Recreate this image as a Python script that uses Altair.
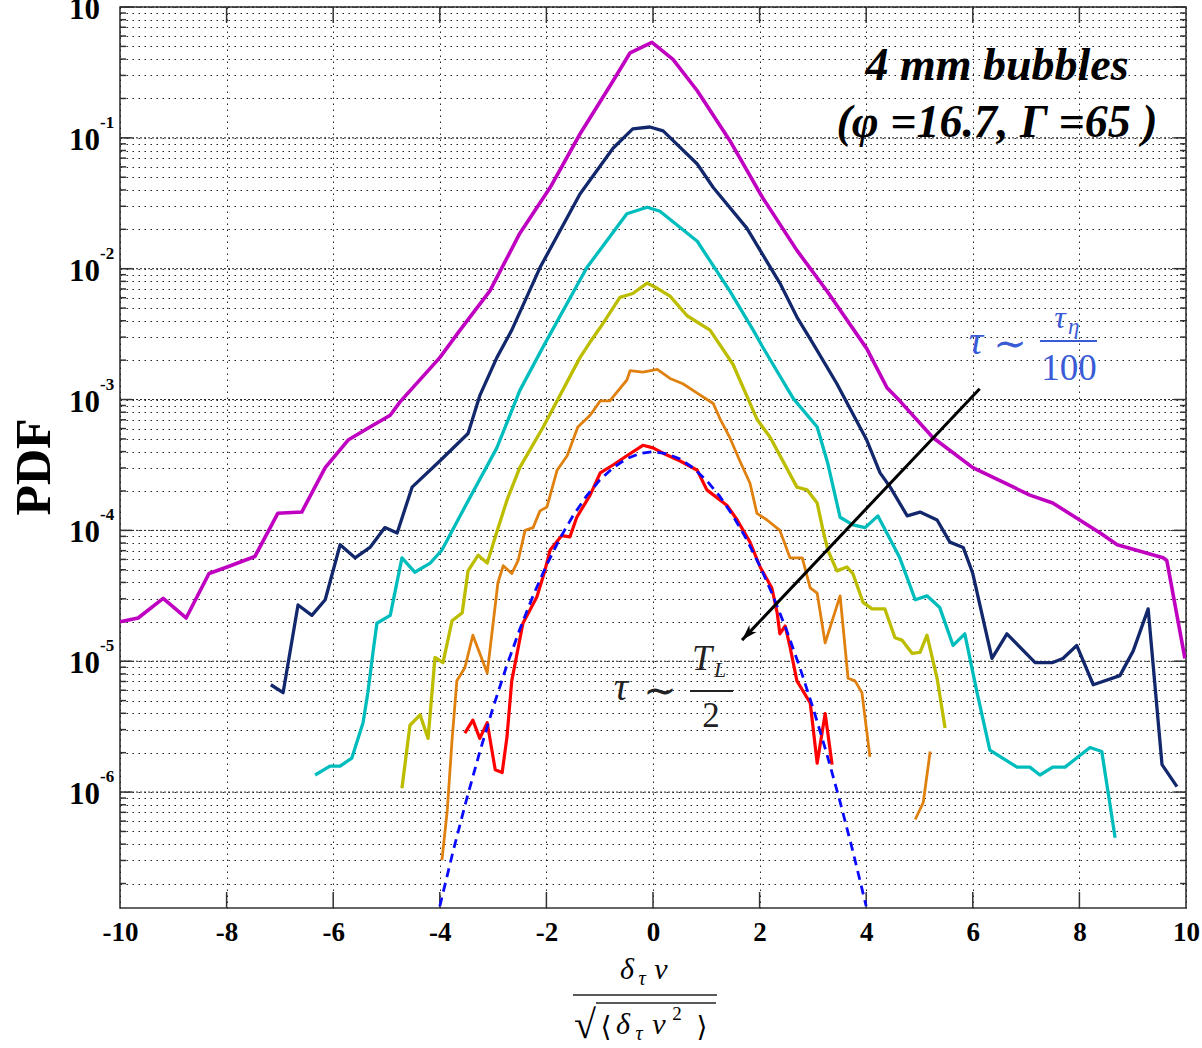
import altair as alt
import pandas as pd

# Normalised velocity increment (x) and its PDF (y); successive time lags are
# shifted down by roughly a decade each so the curves do not overlap.
MAG_X = [-10.0, -9.66, -9.19, -8.76, -8.33, -7.99, -7.47, -7.04, -6.59, -6.15, -5.72, -5.31,
         -4.93, -4.75, -4.00, -3.62, -3.06, -2.50, -1.93, -1.37, -0.75, -0.43, -0.02, 0.375,
         0.83, 1.44, 2.06, 2.70, 3.28, 4.01, 4.39, 4.63, 5.25, 6.00, 6.51, 7.07, 7.50, 8.39,
         8.71, 9.57, 9.64, 9.98]
MAG_Y = [2.00e-5, 2.14e-5, 3.02e-5, 2.14e-5, 4.68e-5, 5.25e-5, 6.31e-5, 1.35e-4, 1.38e-4,
         3.02e-4, 4.90e-4, 6.17e-4, 7.59e-4, 9.55e-4, 2.09e-3, 3.39e-3, 6.76e-3, 1.86e-2,
         4.17e-2, 0.107, 0.272, 0.447, 0.537, 0.398, 0.229, 0.0955, 0.0347, 0.0138, 6.61e-3,
         2.45e-3, 1.23e-3, 9.77e-4, 5.13e-4, 3.02e-4, 2.40e-4, 1.86e-4, 1.62e-4, 9.55e-5,
         7.76e-5, 6.17e-5, 5.89e-5, 1.05e-5]

NAVY_X = [-7.17, -6.94, -6.66, -6.40, -6.15, -5.87, -5.59, -5.31, -5.03, -4.80, -4.52, -4.00,
          -3.47, -3.25, -2.93, -2.65, -2.12, -1.37, -0.75, -0.38, -0.06, 0.19, 0.83, 1.13,
          1.76, 2.38, 2.70, 3.00, 3.45, 4.01, 4.26, 4.45, 4.77, 5.01, 5.33, 5.57, 5.82, 6.00,
          6.36, 6.64, 7.17, 7.50, 7.69, 7.95, 8.26, 8.76, 9.01, 9.29, 9.55, 9.83]
NAVY_Y = [6.61e-6, 5.75e-6, 2.69e-5, 2.24e-5, 2.95e-5, 7.76e-5, 6.17e-5, 7.41e-5, 1.05e-4,
          9.55e-5, 2.14e-4, 3.39e-4, 5.50e-4, 1.07e-3, 2.09e-3, 3.39e-3, 1.02e-2, 3.72e-2,
          8.32e-2, 0.117, 0.121, 0.113, 0.0631, 0.0417, 0.0204, 7.76e-3, 4.27e-3, 2.69e-3,
          1.32e-3, 4.90e-4, 2.75e-4, 2.14e-4, 1.29e-4, 1.38e-4, 1.20e-4, 8.13e-5, 7.41e-5,
          4.68e-5, 1.05e-5, 1.62e-5, 9.77e-6, 9.77e-6, 1.05e-5, 1.32e-5, 6.61e-6, 7.76e-6,
          1.20e-5, 2.51e-5, 1.62e-6, 1.10e-6]

CYAN_X = [-6.34, -6.06, -5.87, -5.65, -5.44, -5.35, -5.25, -5.18, -4.93, -4.71, -4.47, -4.18,
          -3.96, -3.49, -2.93, -2.50, -2.08, -1.24, -0.49, -0.11, 0.13, 0.83, 1.44, 1.88,
          2.06, 2.63, 3.08, 3.28, 3.51, 3.75, 3.98, 4.22, 4.63, 4.92, 5.14, 5.38, 5.63, 5.85,
          6.08, 6.32, 6.83, 7.07, 7.26, 7.50, 7.73, 8.20, 8.42, 8.67]
CYAN_Y = [1.35e-6, 1.58e-6, 1.58e-6, 1.82e-6, 3.39e-6, 5.75e-6, 1.20e-5, 1.95e-5, 2.24e-5,
          6.17e-5, 4.79e-5, 5.62e-5, 7.08e-5, 1.62e-4, 4.27e-4, 1.17e-3, 2.45e-3, 1.02e-2,
          2.63e-2, 2.95e-2, 2.75e-2, 1.62e-2, 6.76e-3, 3.39e-3, 2.51e-3, 1.02e-3, 6.17e-4,
          3.24e-4, 1.26e-4, 1.10e-4, 1.05e-4, 1.29e-4, 6.17e-5, 2.95e-5, 3.16e-5, 2.57e-5,
          1.32e-5, 1.62e-5, 5.75e-6, 2.09e-6, 1.55e-6, 1.55e-6, 1.35e-6, 1.55e-6, 1.55e-6,
          2.19e-6, 2.04e-6, 4.47e-7]

OLIVE_X = [-4.71, -4.56, -4.37, -4.22, -4.09, -3.94, -3.77, -3.58, -3.47, -3.28, -3.11, -2.96,
           -2.74, -2.50, -2.06, -1.80, -1.37, -1.18, -0.99, -0.62, -0.38, -0.11, 0.08, 0.32,
           0.64, 1.07, 1.50, 1.95, 2.20, 2.70, 2.89, 3.08, 3.19, 3.28, 3.45, 3.64, 3.75, 3.94,
           4.11, 4.35, 4.54, 4.67, 4.86, 5.01, 5.14, 5.33, 5.48]
OLIVE_Y = [1.07e-6, 3.24e-6, 3.89e-6, 2.57e-6, 1.07e-5, 9.77e-6, 2.04e-5, 2.34e-5, 4.90e-5,
           6.46e-5, 5.62e-5, 8.91e-5, 1.70e-4, 3.02e-4, 6.17e-4, 9.77e-4, 2.09e-3, 2.75e-3,
           3.55e-3, 6.03e-3, 6.46e-3, 7.76e-3, 7.08e-3, 6.17e-3, 4.37e-3, 3.39e-3, 1.86e-3,
           7.08e-4, 5.13e-4, 2.14e-4, 2.04e-4, 1.62e-4, 1.00e-4, 7.08e-5, 4.90e-5, 5.25e-5,
           4.68e-5, 2.82e-5, 2.51e-5, 2.51e-5, 1.51e-5, 1.45e-5, 1.15e-5, 1.17e-5, 1.58e-5,
           7.41e-6, 3.09e-6]

ORANGE_X = [-3.96, -3.86, -3.77, -3.68, -3.53, -3.38, -3.11, -2.91, -2.81, -2.65, -2.53, -2.40,
            -2.25, -2.12, -1.99, -1.80, -1.61, -1.41, -1.18, -0.99, -0.81, -0.49, -0.43, -0.19,
            0.08, 0.32, 0.56, 0.83, 1.13, 1.26, 1.44, 1.63, 1.82, 1.95, 2.14, 2.38, 2.57, 2.80,
            2.95, 3.08, 3.23, 3.51, 3.66, 3.79, 3.92, 4.07]
ORANGE_Y = [3.02e-7, 7.24e-7, 2.51e-6, 7.08e-6, 8.91e-6, 1.58e-5, 8.13e-6, 3.98e-5, 5.37e-5,
            4.68e-5, 5.89e-5, 1.00e-4, 1.05e-4, 1.41e-4, 1.51e-4, 2.88e-4, 3.72e-4, 6.17e-4,
            7.59e-4, 9.77e-4, 9.77e-4, 1.41e-3, 1.66e-3, 1.62e-3, 1.70e-3, 1.45e-3, 1.32e-3,
            1.12e-3, 9.33e-4, 7.08e-4, 5.13e-4, 3.39e-4, 2.29e-4, 1.35e-4, 1.20e-4, 1.00e-4,
            6.17e-5, 6.17e-5, 3.63e-5, 3.31e-5, 1.38e-5, 3.16e-5, 7.41e-6, 7.08e-6, 5.75e-6,
            1.86e-6]
# isolated fragment of the orange curve beyond the empty bins
ORANGE_TAIL_X = [4.92, 5.07, 5.20]
ORANGE_TAIL_Y = [6.17e-7, 8.32e-7, 2.04e-6]

RED_X = [-3.53, -3.38, -3.25, -3.11, -2.96, -2.83, -2.74, -2.65, -2.44, -2.18, -2.03, -1.93,
         -1.71, -1.56, -1.43, -1.18, -0.99, -0.75, -0.49, -0.19, 0.00, 0.19, 0.51, 0.83, 1.01,
         1.20, 1.39, 1.58, 1.82, 2.01, 2.23, 2.33, 2.38, 2.48, 2.57, 2.70, 2.95, 3.08, 3.23,
         3.36]
RED_Y = [2.82e-6, 3.55e-6, 2.57e-6, 3.39e-6, 1.48e-6, 1.41e-6, 2.63e-6, 7.08e-6, 1.95e-5,
         3.09e-5, 4.90e-5, 7.08e-5, 9.12e-5, 8.91e-5, 1.26e-4, 1.86e-4, 2.75e-4, 3.16e-4,
         3.72e-4, 4.47e-4, 4.27e-4, 3.89e-4, 3.39e-4, 2.88e-4, 2.04e-4, 1.78e-4, 1.55e-4,
         1.20e-4, 8.13e-5, 5.25e-5, 3.63e-5, 2.34e-5, 1.62e-5, 1.86e-5, 1.29e-5, 7.08e-6,
         4.79e-6, 1.66e-6, 3.98e-6, 1.62e-6]

# Gaussian reference drawn under the lowest curve
GAUSS_X = [-4.0, -3.75, -3.5, -3.25, -3.0, -2.75, -2.5, -2.25, -2.0, -1.75, -1.5, -1.25, -1.0,
           -0.75, -0.5, -0.25, 0.0, 0.25, 0.5, 0.75, 1.0, 1.25, 1.5, 1.75, 2.0, 2.25, 2.5,
           2.75, 3.0, 3.25, 3.5, 3.75, 4.0]
GAUSS_Y = [1.34e-7, 3.53e-7, 8.73e-7, 2.03e-6, 4.43e-6, 9.09e-6, 1.753e-5, 3.17e-5, 5.40e-5,
           8.63e-5, 1.295e-4, 1.826e-4, 2.420e-4, 3.011e-4, 3.521e-4, 3.866e-4, 3.989e-4,
           3.866e-4, 3.521e-4, 3.011e-4, 2.420e-4, 1.826e-4, 1.295e-4, 8.63e-5, 5.40e-5,
           3.17e-5, 1.753e-5, 9.09e-6, 4.43e-6, 2.03e-6, 8.73e-7, 3.53e-7, 1.34e-7]

# arrow from the smallest to the largest time lag
ARROW_X = [6.13, 1.67]
ARROW_Y = [1.21e-3, 1.45e-5]

X_TICKS = [-10, -8, -6, -4, -2, 0, 2, 4, 6, 8, 10]
DECADES = [1e-6, 1e-5, 1e-4, 1e-3, 1e-2, 1e-1, 1.0]
# the exponent of the top label sits above the frame and is not drawn
DECADE_EXP = ["-6", "-5", "-4", "-3", "-2", "-1", ""]
Y_MIN, Y_MAX = 1.3e-7, 1.0

W, H = 1066, 901
SERIF = "Liberation Serif"

minor = [m * 10.0 ** e for e in range(-7, 0) for m in range(2, 10)]
minor = [v for v in minor if Y_MIN <= v <= Y_MAX]
grid_vals = sorted(minor + DECADES)

xs = alt.Scale(domain=[-10, 10], nice=False, zero=False)
ys = alt.Scale(type="log", domain=[Y_MIN, Y_MAX], nice=False)
x_axis = alt.Axis(values=X_TICKS, grid=True, gridDash=[1.5, 4.5], gridColor="#222",
                  gridWidth=1, ticks=False, tickSize=0, domain=False, labelFont=SERIF,
                  labelFontWeight="bold", labelFontSize=27, labelColor="black",
                  labelPadding=11, labelFlush=False, labelOverlap=False,
                  labelExpr="datum.value + ''", title=None)
y_axis = alt.Axis(values=grid_vals, grid=True, gridDash=[1.5, 4.5], gridColor="#222",
                  gridWidth=1, ticks=False, tickSize=0, domain=False, labels=False, title=None)

X = alt.X("x:Q", scale=xs, axis=x_axis)
Y = alt.Y("y:Q", scale=ys, axis=y_axis)


def curve(xv, yv, color, width, dash=None):
    df = pd.DataFrame({"x": xv, "y": yv})
    kw = dict(color=color, strokeWidth=width, clip=True, strokeJoin="round")
    if dash:
        kw["strokeDash"] = dash
    return alt.Chart(df).mark_line(**kw).encode(x=X, y=Y)


def text(t, px, py, size, color="black", style="normal", weight="normal",
         align="center", baseline="alphabetic", angle=0, font=SERIF):
    return alt.Chart(pd.DataFrame({"t": [t]})).mark_text(
        font=font, fontSize=size, fontStyle=style, fontWeight=weight, color=color,
        align=align, baseline=baseline, angle=angle
    ).encode(x=alt.value(px), y=alt.value(py), text="t:N")


def bar(x1, x2, py, color="black", width=1.6):
    return alt.Chart(pd.DataFrame({"k": [0]})).mark_rule(color=color, strokeWidth=width).encode(
        x=alt.value(x1), x2=alt.value(x2), y=alt.value(py))


# decade grid lines drawn a little denser than the minor ones
decade_df = pd.DataFrame({"y": DECADES})
decade_grid = alt.Chart(decade_df).mark_rule(color="#222", strokeWidth=1, strokeDash=[2, 2]).encode(
    y=Y, x=alt.value(0), x2=alt.value(W))

# inward ticks on all four sides
minor_df = pd.DataFrame({"y": minor})
tick_style = dict(color="#333", strokeWidth=1.5)
ticks = [
    alt.Chart(decade_df).mark_rule(**tick_style).encode(y=Y, x=alt.value(0), x2=alt.value(12)),
    alt.Chart(decade_df).mark_rule(**tick_style).encode(y=Y, x=alt.value(W), x2=alt.value(W - 12)),
    alt.Chart(minor_df).mark_rule(**tick_style).encode(y=Y, x=alt.value(0), x2=alt.value(6)),
    alt.Chart(minor_df).mark_rule(**tick_style).encode(y=Y, x=alt.value(W), x2=alt.value(W - 6)),
]
xt_df = pd.DataFrame({"x": X_TICKS[1:-1]})
ticks += [
    alt.Chart(xt_df).mark_rule(**tick_style).encode(x=X, y=alt.value(H), y2=alt.value(H - 16)),
    alt.Chart(xt_df).mark_rule(**tick_style).encode(x=X, y=alt.value(0), y2=alt.value(16)),
]

# y tick labels as 10 with a raised exponent
ylab_df = pd.DataFrame({"y": DECADES, "base": ["10"] * len(DECADES), "exp": DECADE_EXP})
ylab_base = alt.Chart(ylab_df).mark_text(
    font=SERIF, fontSize=31, fontWeight="bold", color="black", align="right",
    baseline="middle", dy=3).encode(y=Y, x=alt.value(-20), text="base:N")
ylab_exp = alt.Chart(ylab_df).mark_text(
    font=SERIF, fontSize=17, fontWeight="bold", color="black", align="left",
    baseline="middle", dy=-15).encode(y=Y, x=alt.value(-20), text="exp:N")

curves = [
    curve(MAG_X, MAG_Y, "#c000c0", 3.6),
    curve(NAVY_X, NAVY_Y, "#13286c", 3.3),
    curve(CYAN_X, CYAN_Y, "#00bdbd", 3.3),
    curve(OLIVE_X, OLIVE_Y, "#bdbd00", 3.3),
    curve(ORANGE_X, ORANGE_Y, "#e0800f", 2.8),
    curve(ORANGE_TAIL_X, ORANGE_TAIL_Y, "#e0800f", 2.8),
    curve(RED_X, RED_Y, "#ff0000", 3.2),
    curve(GAUSS_X, GAUSS_Y, "#0a0aff", 2.8, dash=[9, 6]),
]

arrow_df = pd.DataFrame({"x": ARROW_X, "y": ARROW_Y})
arrow_line = alt.Chart(arrow_df).mark_line(color="black", strokeWidth=3).encode(x=X, y=Y)
arrow_head = alt.Chart(arrow_df.iloc[[1]]).mark_point(
    shape="M0,0 L0.5,1.6 L0,1.15 L-0.5,1.6 Z", filled=True, color="black", opacity=1,
    size=400, angle=223.4).encode(x=X, y=Y)

BLUE = "#3a5bd6"
annotations = [
    text("4 mm bubbles", 877, 73, 46, style="italic", weight="bold"),
    text("(\u03c6 =16.7, \u0393 =65 )", 877, 130, 46, style="italic", weight="bold"),
    # tau ~ tau_eta / 100
    text("\u03c4", 856, 347, 40, color=BLUE, style="italic"),
    text("\u223c", 890, 338, 40, color=BLUE, baseline="middle", font="DejaVu Serif"),
    text("\u03c4", 940, 321, 32, color=BLUE, style="italic"),
    text("\u03b7", 948, 327, 23, color=BLUE, style="italic", align="left"),
    bar(920, 977, 334, color=BLUE, width=1.8),
    text("100", 949, 373, 37, color=BLUE),
    # tau ~ T_L / 2
    text("\u03c4", 501, 693, 40, color="#222", style="italic"),
    text("\u223c", 540, 685, 40, color="#222", baseline="middle", font="DejaVu Serif"),
    text("T", 582, 663, 36, color="#222", style="italic"),
    text("L", 594, 670, 22, color="#222", style="italic", align="left"),
    bar(570, 613, 684, color="#222", width=1.8),
    text("2", 591, 720, 35, color="#222"),
    # y title
    text("PDF", -85, 460, 50, weight="bold", baseline="middle", angle=270),
    # x title: delta_tau v / sqrt(<delta_tau v^2>)
    text("\u03b4", 507, 972, 30, style="italic"),
    text("\u03c4", 522, 978, 20, style="italic"),
    text("v", 541, 972, 30, style="italic"),
    bar(453, 597, 988, color="#222", width=1.6),
    text("\u221a", 465, 1031, 40),
    bar(476, 596, 996, color="#222", width=1.5),
    text("\u27e8", 486, 1029, 28, font="DejaVu Serif"),
    text("\u03b4", 503, 1027, 30, style="italic"),
    text("\u03c4", 519, 1033, 20, style="italic"),
    text("v", 539, 1027, 30, style="italic"),
    text("2", 557, 1013, 19),
    text("\u27e9", 582, 1029, 28, font="DejaVu Serif"),
]

chart = alt.layer(
    decade_grid, *ticks, *curves, arrow_line, arrow_head, ylab_base, ylab_exp, *annotations
).properties(
    width=W, height=H,
    autosize=alt.AutoSizeParams(type="none"),
    padding={"left": 120, "top": 7, "right": 16, "bottom": 140},
    background="white",
).configure_view(stroke="#333", strokeWidth=1.6)

chart.save("out.html", embed_options={"renderer": "svg", "actions": False})
